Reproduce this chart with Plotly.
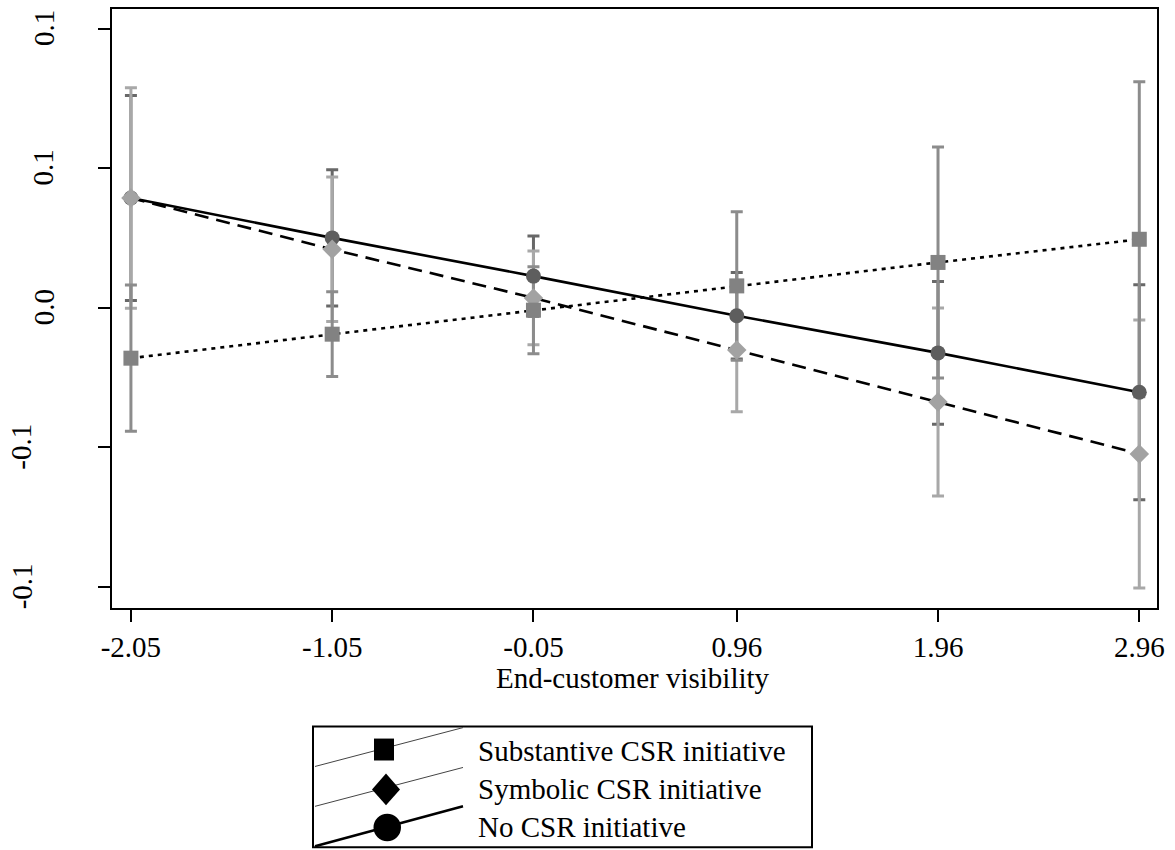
import plotly.graph_objects as go

# ---------------- data ----------------
visibility = [-2.05, -1.05, -0.05, 0.96, 1.96, 2.96]
x_tick_labels = ["-2.05", "-1.05", "-0.05", "0.96", "1.96", "2.96"]
y_tick_values = [0.1, 0.05, 0.0, -0.05, -0.1]
y_tick_labels = ["0.1", "0.1", "0.0", "-0.1", "-0.1"]
x_title = "End-customer visibility"

series_names = ["Substantive CSR initiative", "Symbolic CSR initiative", "No CSR initiative"]

substantive_mean = [-0.0181, -0.0095, -0.0009, 0.0078, 0.0162, 0.0245]
substantive_ci = [0.0262, 0.0152, 0.0156, 0.0266, 0.0414, 0.0564]

symbolic_mean = [0.0393, 0.0209, 0.0035, -0.0152, -0.0338, -0.0524]
symbolic_ci = [0.0395, 0.0259, 0.0168, 0.0221, 0.0337, 0.0480]

none_mean = [0.0393, 0.0250, 0.0113, -0.0029, -0.0162, -0.0303]
none_ci = [0.0367, 0.0244, 0.0144, 0.0155, 0.0256, 0.0385]

# ---------------- styling ----------------
W, H = 1175, 850
L, R, T, B = 112, 18, 7, 242
PW, PH = W - L - R, H - T - B
FONT = "Liberation Serif, Times New Roman, serif"
FS = 29


def px_x(p):
    return (p - L) / PW


def px_y(p):
    return (H - B - p) / PH


series = [
    # name, mean, ci, marker symbol, marker color, bar color, dash, line width
    (series_names[2], none_mean, none_ci, "circle", "#5e5e5e", "#686868", "solid", 2.6),
    (series_names[1], symbolic_mean, symbolic_ci, "diamond", "#a2a2a2", "#a8a8a8", "14px,8px", 2.6),
    (series_names[0], substantive_mean, substantive_ci, "square", "#828282", "#8c8c8c", "4px,5px", 2.6),
]

fig = go.Figure()

# confidence-interval caps (drawn first, underneath)
for name, mean, ci, sym, mcol, bcol, dash, lw in series:
    fig.add_trace(go.Scatter(
        x=visibility, y=mean, mode="markers", name=name, showlegend=False,
        marker=dict(size=1, color="rgba(0,0,0,0)"),
        error_y=dict(type="data", array=ci, visible=True, color=bcol, thickness=3, width=6),
        hoverinfo="skip",
    ))

# connecting lines
for name, mean, ci, sym, mcol, bcol, dash, lw in series:
    fig.add_trace(go.Scatter(
        x=visibility, y=mean, mode="lines", name=name, showlegend=False,
        line=dict(color="black", width=lw, dash=dash),
    ))

# markers
for name, mean, ci, sym, mcol, bcol, dash, lw in series:
    fig.add_trace(go.Scatter(
        x=visibility, y=mean, mode="markers", name=name, showlegend=False,
        marker=dict(symbol=sym, size=15, color=mcol, line=dict(width=0)),
    ))

# y tick labels (rotated) as text
annotations = []
for v, t in zip(y_tick_values, y_tick_labels):
    annotations.append(dict(
        x=0, xref="paper", y=v, yref="y", text=t, showarrow=False,
        textangle=-90, xanchor="center", yanchor="middle",
        xshift=-(L - (21.5 if t.startswith("-") else 43.5)),
        font=dict(family=FONT, size=FS, color="black"),
    ))

# x-axis title
annotations.append(dict(
    x=px_x(633), xref="paper", y=px_y(678), yref="paper", text=x_title,
    showarrow=False, xanchor="center", yanchor="middle",
    font=dict(family=FONT, size=FS, color="black"),
))

# ---------------- legend (drawn below the plot) ----------------
shapes = []
shapes.append(dict(type="rect", xref="paper", yref="paper",
                   x0=px_x(313), x1=px_x(812), y0=px_y(727), y1=px_y(848),
                   line=dict(color="black", width=2), fillcolor="white", layer="above"))
legend_rows = [751, 790, 828]
legend_line_specs = [((315, 767), (463, 728), 1, "#444444"),
                     ((315, 807), (463, 768), 1, "#444444"),
                     ((315, 847), (463, 807), 2.6, "black")]
for (a, b, w, c) in legend_line_specs:
    shapes.append(dict(type="line", xref="paper", yref="paper",
                       x0=px_x(a[0]), y0=px_y(a[1]), x1=px_x(b[0]), y1=px_y(b[1]),
                       line=dict(color=c, width=w), layer="above"))
# square
shapes.append(dict(type="rect", xref="paper", yref="paper",
                   x0=px_x(374), x1=px_x(394), y0=px_y(739), y1=px_y(761),
                   line=dict(width=0), fillcolor="black", layer="above"))
# diamond
cx, cy, hw, hh = 386, 790, 14, 16
shapes.append(dict(type="path", xref="paper", yref="paper",
                   path="M {} {} L {} {} L {} {} L {} {} Z".format(
                       px_x(cx), px_y(cy - hh), px_x(cx + hw), px_y(cy),
                       px_x(cx), px_y(cy + hh), px_x(cx - hw), px_y(cy)),
                   line=dict(width=0), fillcolor="black", layer="above"))
# circle
shapes.append(dict(type="circle", xref="paper", yref="paper",
                   x0=px_x(373.5), x1=px_x(401), y0=px_y(814.5), y1=px_y(842),
                   line=dict(width=0), fillcolor="black", layer="above"))

for name, yrow in zip(series_names, legend_rows):
    annotations.append(dict(
        x=px_x(476), xref="paper", y=px_y(yrow), yref="paper", text=name,
        showarrow=False, xanchor="left", yanchor="middle",
        font=dict(family=FONT, size=FS, color="black"),
    ))

fig.update_layout(
    width=W, height=H,
    margin=dict(l=L, r=R, t=T, b=B, pad=0),
    paper_bgcolor="white", plot_bgcolor="white",
    showlegend=False,
    font=dict(family=FONT, size=FS, color="black"),
    xaxis=dict(
        range=[-2.144, 3.048], tickvals=visibility, ticktext=x_tick_labels,
        ticks="outside", ticklen=12, tickwidth=1.5, tickcolor="black",
        showline=True, linecolor="black", linewidth=2, mirror=True,
        showgrid=False, zeroline=False,
        tickfont=dict(family=FONT, size=FS, color="black"),
    ),
    yaxis=dict(
        range=[-0.1076, 0.107], tickvals=y_tick_values, showticklabels=False,
        ticks="outside", ticklen=12, tickwidth=1.5, tickcolor="black",
        showline=True, linecolor="black", linewidth=2, mirror=True,
        showgrid=False, zeroline=False,
    ),
    annotations=annotations,
    shapes=shapes,
)

fig.write_html(
    "out.html",
    config={"displayModeBar": False},
    post_script="document.body.style.margin='0';document.body.style.overflow='hidden';",
)
